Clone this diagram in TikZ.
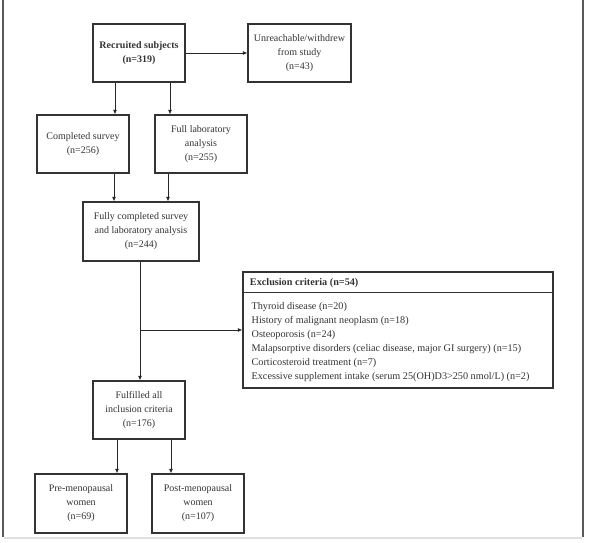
\documentclass[tikz,border=0pt]{standalone}
\usepackage{fontspec}
\setmainfont{Liberation Serif}
\usetikzlibrary{arrows.meta}
\definecolor{ink}{HTML}{333333}
\tikzset{
  box/.style={draw=ink, line width=1.1pt, text=ink, align=center, minimum width=92pt,
    minimum height=58pt, inner sep=2pt, font=\fontsize{10}{14}\selectfont},
  arr/.style={-{Latex[length=4.5pt,width=4pt]}, line width=1pt, draw=black!85},
  frame/.style={line width=1.6pt, draw=black!65}
}

\begin{document}
\begin{tikzpicture}[x=1pt, y=-1pt]
    \useasboundingbox (0,0) rectangle (589,542);
    \draw[frame] (3,0) -- (3,537) (583,0) -- (583,537);
    \draw[line width=2pt, black!12] (4,538) -- (582,538);
    \node[box] (R) at (139,53) {\textbf{Recruited subjects}\\\textbf{(n=319)}};
    \node[box, minimum width=103pt] (U) at (299.5,53) {Unreachable/withdrew\\from study\\(n=43)};
    \node[box] (S) at (83,144) {Completed survey\\(n=256)};
    \node[box] (L) at (201,144) {Full laboratory\\analysis\\(n=255)};
    \node[box, minimum width=116pt, minimum height=59pt] (F) at (141,231.5)
        {Fully completed survey\\and laboratory analysis\\(n=244)};
    \node[box, minimum width=310pt, minimum height=116pt] (E) at (398,330) {};
    \node[anchor=west, text=ink, font=\fontsize{10.2}{14}\selectfont\bfseries] (Eh)
        at ([xshift=4pt, yshift=-11.5pt]E.north west) {Exclusion criteria (n=54)};
    \node[anchor=north west, align=left, text=ink, inner sep=0pt, font=\fontsize{10.2}{14.1}\selectfont] (El)
        at ([xshift=9pt, yshift=-30.5pt]E.north west)
        {Thyroid disease (n=20)\\History of malignant neoplasm (n=18)\\Osteoporosis (n=24)\\
         Malapsorptive disorders (celiac disease, major GI surgery) (n=15)\\
         Corticosteroid treatment (n=7)\\
         Excessive supplement intake (serum 25(OH)D3>250 nmol/L) (n=2)};
    \draw[draw=ink, line width=1.1pt] ([yshift=-21pt]E.north west) -- ([yshift=-21pt]E.north east);
    \node[box] (I) at (139,410) {Fulfilled all\\inclusion criteria\\(n=176)};
    \node[box, minimum height=59pt] (P) at (81,503.5) {Pre-menopausal\\women\\(n=69)};
    \node[box, minimum height=59pt] (Q) at (198,503.5) {Post-menopausal\\women\\(n=107)};
    \draw[arr] (R) -- (U);
    \draw[arr] ([xshift=-24pt]R.south) -- ([xshift=-24pt]R.south |- S.north);
    \draw[arr] ([xshift=31pt]R.south) -- ([xshift=31pt]R.south |- L.north);
    \draw[arr] ([xshift=31pt]S.south) -- ([xshift=31pt]S.south |- F.north);
    \draw[arr] ([xshift=-33pt]L.south) -- ([xshift=-33pt]L.south |- F.north);
    \draw[arr] ([xshift=-1pt]F.south) -- ([xshift=-1pt]F.south |- I.north);
    \draw[arr] ([xshift=-1pt]F.south |- E.west) -- (E.west);
    \draw[arr] ([xshift=-22pt]I.south) -- ([xshift=-22pt]I.south |- P.north);
    \draw[arr] ([xshift=32pt]I.south) -- ([xshift=32pt]I.south |- Q.north);
\end{tikzpicture}
\end{document}
